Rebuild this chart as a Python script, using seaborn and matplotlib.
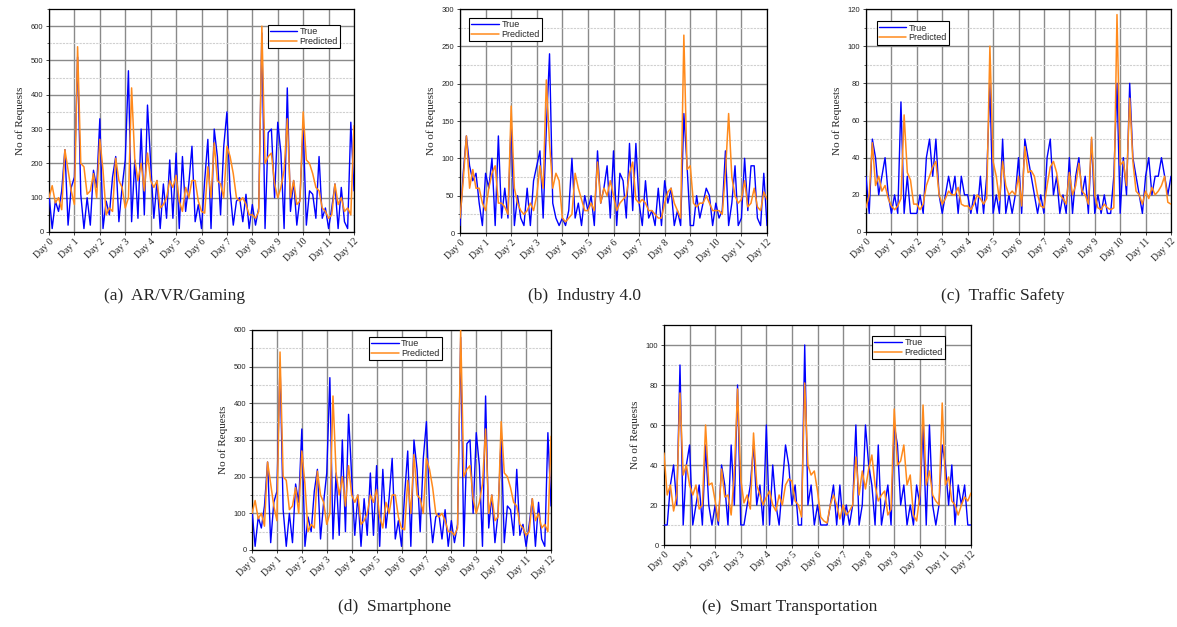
import numpy as np
import pandas as pd
import matplotlib
matplotlib.use("Agg")
import matplotlib.pyplot as plt
from matplotlib.ticker import MultipleLocator
import seaborn as sns

# ---------------- data (8 samples per day, day 0 .. day 12) ----------------
PER_DAY = 8

ar_true = [
    110, 10, 90, 60, 120, 240, 20, 130,
    160, 510, 110, 10, 100, 20, 180, 130,
    330, 10, 90, 50, 160, 220, 30, 130,
    210, 470, 30, 210, 40, 300, 50, 370,
    200, 40, 150, 10, 140, 40, 210, 40,
    230, 10, 220, 60, 140, 250, 30, 80,
    10, 150, 270, 10, 300, 220, 50, 250,
    350, 120, 20, 90, 100, 30, 110, 10,
    80, 20, 70, 580, 10, 290, 300, 100,
    320, 230, 10, 420, 60, 150, 20, 100,
    310, 20, 120, 110, 40, 220, 40, 70,
    10, 70, 140, 10, 130, 30, 10, 320,
    120]
ar_pred = [
    100, 135, 85, 100, 65, 240, 180, 120,
    80, 540, 200, 190, 110, 120, 170, 100,
    270, 180, 50, 70, 60, 215, 150, 130,
    70, 100, 420, 210, 150, 200, 120, 230,
    150, 130, 150, 70, 80, 100, 150, 130,
    165, 90, 60, 130, 100, 150, 150, 90,
    60, 55, 190, 100, 260, 150, 140, 100,
    250, 220, 170, 100, 90, 100, 80, 50,
    50, 40, 60, 600, 200, 220, 230, 140,
    100, 130, 180, 330, 100, 150, 80, 90,
    350, 210, 200, 170, 130, 120, 70, 60,
    40, 50, 140, 80, 100, 60, 70, 50,
    310]

ind_true = [
    10, 80, 130, 90, 70, 80, 40, 10,
    80, 60, 100, 10, 130, 20, 60, 20,
    150, 10, 50, 20, 10, 60, 10, 70,
    90, 110, 20, 140, 240, 40, 20, 10,
    20, 10, 30, 100, 20, 40, 10, 50,
    30, 50, 10, 110, 40, 60, 90, 20,
    110, 10, 80, 70, 20, 120, 30, 120,
    40, 10, 70, 20, 30, 10, 60, 10,
    70, 40, 60, 10, 30, 10, 160, 90,
    10, 10, 50, 20, 40, 60, 50, 10,
    40, 20, 30, 110, 10, 40, 90, 10,
    20, 100, 30, 90, 90, 20, 10, 80,
    10]
ind_pred = [
    20, 70, 130, 60, 85, 60, 60, 40,
    30, 60, 80, 90, 40, 40, 35, 25,
    170, 60, 40, 30, 25, 30, 40, 30,
    50, 90, 60, 205, 120, 60, 80, 70,
    20, 15, 20, 25, 80, 60, 45, 30,
    30, 40, 30, 95, 40, 60, 50, 70,
    50, 30, 40, 45, 50, 80, 95, 45,
    40, 45, 40, 30, 30, 25, 20, 20,
    40, 55, 60, 40, 30, 20, 265, 85,
    90, 40, 35, 40, 40, 50, 40, 30,
    30, 30, 25, 80, 160, 75, 50, 40,
    45, 70, 35, 40, 60, 35, 30, 55,
    45]

ts_true = [
    30, 10, 50, 40, 20, 30, 40, 20,
    10, 20, 10, 70, 10, 30, 10, 10,
    10, 20, 10, 40, 50, 30, 50, 20,
    10, 20, 30, 20, 30, 10, 30, 20,
    20, 10, 20, 10, 30, 10, 30, 80,
    10, 20, 10, 50, 10, 20, 10, 20,
    40, 10, 50, 40, 30, 20, 10, 20,
    10, 40, 50, 20, 30, 10, 20, 10,
    40, 10, 30, 40, 20, 30, 10, 50,
    10, 20, 10, 20, 10, 10, 30, 80,
    10, 40, 20, 80, 40, 30, 20, 10,
    30, 40, 20, 30, 30, 40, 30, 20,
    30]
ts_pred = [
    13, 20, 48, 25, 30, 22, 25, 18,
    14, 12, 14, 18, 63, 32, 28, 15,
    15, 12, 15, 25, 30, 35, 38, 20,
    15, 18, 22, 20, 20, 24, 15, 14,
    14, 12, 15, 20, 18, 15, 18, 100,
    38, 30, 17, 38, 25, 20, 22, 20,
    30, 14, 46, 32, 33, 30, 20, 14,
    13, 25, 35, 38, 32, 20, 18, 15,
    32, 20, 25, 37, 22, 20, 15, 51,
    20, 13, 12, 15, 13, 12, 13, 117,
    36, 38, 25, 72, 38, 22, 20, 15,
    22, 18, 24, 20, 22, 25, 30, 16,
    15]

st_true = [
    10, 10, 30, 40, 20, 90, 10, 40,
    50, 10, 20, 30, 10, 50, 20, 10,
    20, 10, 40, 30, 10, 50, 20, 80,
    10, 10, 20, 30, 50, 20, 30, 10,
    60, 10, 40, 20, 10, 30, 50, 40,
    20, 30, 10, 10, 100, 20, 30, 10,
    20, 10, 10, 10, 20, 30, 10, 30,
    10, 20, 10, 20, 60, 10, 20, 60,
    40, 30, 10, 50, 10, 20, 30, 10,
    60, 50, 20, 30, 10, 20, 10, 30,
    20, 60, 10, 60, 20, 10, 20, 50,
    40, 20, 40, 10, 30, 20, 30, 10,
    10]
st_pred = [
    46, 25, 30, 17, 25, 76, 35, 40,
    30, 25, 30, 18, 20, 60, 30, 31,
    22, 12, 38, 24, 25, 15, 36, 78,
    33, 21, 25, 18, 56, 30, 25, 20,
    24, 27, 20, 17, 25, 20, 30, 33,
    32, 22, 20, 14, 81, 40, 35, 37,
    27, 14, 12, 11, 20, 25, 20, 13,
    20, 15, 17, 20, 44, 25, 37, 28,
    38, 45, 30, 22, 25, 27, 15, 18,
    68, 40, 42, 50, 30, 35, 15, 12,
    25, 70, 30, 37, 25, 22, 20, 71,
    30, 34, 22, 20, 15, 20, 24, 22,
    26]

day_ticks = list(range(13))
day_labels = [f"Day {d}" for d in day_ticks]

panels = [
    dict(cap="(a)  AR/VR/Gaming", t=ar_true, p=ar_pred, ymax=650, major=100,
         pos=[49, 9, 354, 232], leg=(0.955, 0.93), loc="upper right", capxy=(175, 296)),
    dict(cap="(b)  Industry 4.0", t=ind_true, p=ind_pred, ymax=300, major=50,
         pos=[460, 9, 767, 233], leg=(0.03, 0.96), loc="upper left", capxy=(585, 296)),
    dict(cap="(c)  Traffic Safety", t=ts_true, p=ts_pred, ymax=120, major=20,
         pos=[866, 9, 1171, 232], leg=(0.035, 0.945), loc="upper left", capxy=(1003, 296)),
    dict(cap="(d)  Smartphone", t=ar_true, p=ar_pred, ymax=600, major=100,
         pos=[252, 330, 551, 550], leg=(0.635, 0.97), loc="upper right", capxy=(395, 607)),
    dict(cap="(e)  Smart Transportation", t=st_true, p=st_pred, ymax=110, major=20,
         pos=[664, 325, 971, 545], leg=(0.915, 0.95), loc="upper right", capxy=(790, 607)),
]

sns.set_theme(style="white")
plt.rcParams["font.family"] = ["Liberation Sans", "DejaVu Sans"]

W, H = 1177, 627
fig = plt.figure(figsize=(W / 100, H / 100), dpi=100)

for pnl in panels:
    l, t, r, b = pnl["pos"]
    ax = fig.add_axes([l / W, (H - b) / H, (r - l) / W, (b - t) / H])
    n = len(pnl["t"])
    x = np.arange(n) / PER_DAY
    df = pd.DataFrame({"day": x, "True": pnl["t"], "Predicted": pnl["p"]})
    sns.lineplot(data=df, x="day", y="True", ax=ax, color="#0000ff", lw=1.0,
                 label="True", zorder=3)
    sns.lineplot(data=df, x="day", y="Predicted", ax=ax, color="#ff8a1c", lw=1.1,
                 label="Predicted", zorder=4)
    ax.set_xlim(0, 12)
    ax.set_ylim(0, pnl["ymax"])
    ax.set_xticks(day_ticks)
    ax.set_xticklabels(day_labels, rotation=45, ha="right", rotation_mode="anchor",
                       fontsize=7, family="Liberation Serif")
    ax.yaxis.set_major_locator(MultipleLocator(pnl["major"]))
    ax.yaxis.set_minor_locator(MultipleLocator(pnl["major"] / 2))
    ax.tick_params(axis="y", which="major", labelsize=5.5, length=2.5, width=0.6,
                   direction="out", left=True, pad=1.5)
    ax.tick_params(axis="y", which="minor", length=1.5, width=0.5, left=True)
    ax.tick_params(axis="x", which="major", length=2.5, width=0.6, bottom=True, pad=1)
    ax.grid(True, which="major", axis="both", color="#8a8a8a", lw=1.0, zorder=0)
    ax.grid(True, which="minor", axis="y", color="#d0d0d0", lw=0.8, ls=(0, (2, 1)), zorder=0)
    ax.set_axisbelow(True)
    for s in ax.spines.values():
        s.set_color("black")
        s.set_linewidth(0.9)
    ax.set_xlabel("")
    ax.set_ylabel("No of Requests", fontsize=8, family="Liberation Serif", labelpad=4)
    leg = ax.legend(loc=pnl["loc"], bbox_to_anchor=pnl["leg"], fontsize=6.5,
                    frameon=True, fancybox=False, framealpha=1, edgecolor="black",
                    borderpad=0.25, handlelength=3.0, handletextpad=0.3, labelspacing=0.1,
                    borderaxespad=0)
    leg.get_frame().set_linewidth(0.8)
    cx, cy = pnl["capxy"]
    fig.text(cx / W, 1 - cy / H, pnl["cap"], ha="center", va="center",
             fontsize=12.5, family="Liberation Serif")

fig.savefig("out.png", dpi=100)
